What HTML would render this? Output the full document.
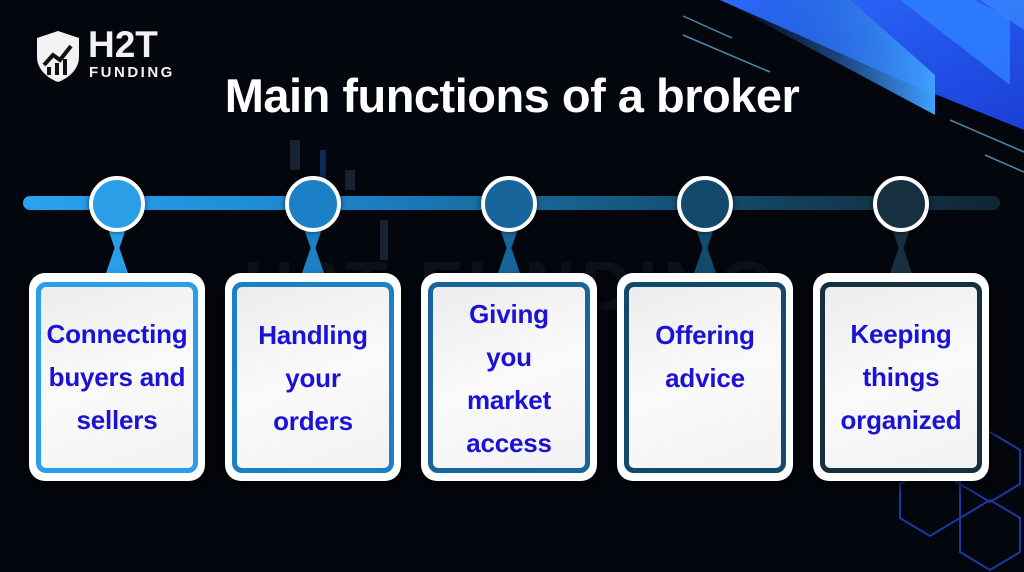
<!DOCTYPE html>
<html><head><meta charset="utf-8"><style>
body{margin:0;width:1024px;height:572px;overflow:hidden;background:#03060c;font-family:"Liberation Sans",sans-serif;position:relative}
.abs{position:absolute}
.box{position:absolute;top:273px;width:176px;height:208px;background:#fff;border-radius:16px;box-shadow:4px 6px 10px rgba(0,0,0,.6)}
.inner{position:absolute;left:7px;top:9px;right:7px;bottom:8px;border:5px solid;border-radius:10px;background:linear-gradient(160deg,#ececec,#fafafa 50%,#f2f2f2)}
.txt{position:absolute;left:-10px;right:-10px;text-align:center;color:#1c12d6;font-weight:bold;font-size:26px;line-height:43px;letter-spacing:-0.2px}
.circ{position:absolute;top:176px;width:48px;height:48px;border:4px solid #fff;border-radius:50%;box-shadow:0 0 6px rgba(0,0,0,.6)}
.stem{position:absolute;top:220px;width:24px;height:56px}
</style></head><body>
<svg class="abs" style="left:0;top:0" width="1024" height="572">
 <defs>
  <linearGradient id="g1" x1="0" y1="0" x2="1" y2="1"><stop offset="0" stop-color="#2d6bff"/><stop offset="1" stop-color="#1a3fd6"/></linearGradient>
  <linearGradient id="g2" x1="0" y1="0" x2="1" y2="0"><stop offset="0" stop-color="#1a4bb0" stop-opacity="0"/><stop offset="1" stop-color="#3fa0ff"/></linearGradient>
 </defs>
 <polygon points="720,0 1024,0 1024,130 900,80" fill="url(#g1)"/>
 <polygon points="720,0 850,0 935,75 935,115" fill="url(#g2)"/>
 <polygon points="900,0 975,0 1010,18 1010,85" fill="#2f82ff" opacity=".8"/>
 <polygon points="980,0 1024,0 1024,30" fill="#3a8fff" opacity=".7"/>
 <g stroke="#5fa8d8" stroke-width="1.5" opacity=".8">
  <line x1="683" y1="16" x2="732" y2="38"/><line x1="683" y1="35" x2="770" y2="72"/>
  <line x1="950" y1="120" x2="1024" y2="152"/><line x1="985" y1="155" x2="1024" y2="172"/>
 </g>
 <g fill="#1d2a3a" opacity=".8">
  <rect x="290" y="140" width="10" height="30"/><rect x="345" y="170" width="10" height="20"/><rect x="380" y="220" width="8" height="40"/>
  <rect x="320" y="150" width="6" height="50" fill="#12336a"/>
 </g>
 <g stroke="#1e46c8" stroke-width="2" fill="none" opacity=".8">
  <polygon points="960,450 990,432 1020,450 1020,484 990,502 960,484"/>
  <polygon points="900,484 930,466 960,484 960,518 930,536 900,518"/>
  <polygon points="960,518 990,500 1020,518 1020,552 990,570 960,552"/>
 </g>
 <text x="512" y="310" text-anchor="middle" font-family="Liberation Sans" font-weight="bold" font-size="70" fill="#fff" opacity=".04" letter-spacing="6">H2T FUNDING</text>
</svg>
<svg class="abs" style="left:33px;top:29px" width="50" height="55" viewBox="0 0 50 55">
 <path d="M25 2 L46 9 V28 C46 40 36 49 25 53 C14 49 4 40 4 28 V9 Z" fill="#f2f2f2"/>
 <path d="M11 36 L20 26 L27 31 L38 17" stroke="#111" stroke-width="4" fill="none"/>
 <rect x="14" y="38" width="4" height="8" fill="#111"/><rect x="22" y="34" width="4" height="12" fill="#111"/><rect x="30" y="30" width="4" height="16" fill="#111"/>
</svg>
<div class="abs" style="left:88px;top:26px;color:#f2f2f2;font-weight:bold;font-size:37px;line-height:38px">H2T</div>
<div class="abs" style="left:89px;top:64px;color:#f2f2f2;font-weight:bold;font-size:15px;letter-spacing:2.5px">FUNDING</div>
<div class="abs" style="left:0;width:1024px;top:68px;text-align:center;color:#fff;font-weight:bold;font-size:47px;letter-spacing:-0.5px">Main functions of a broker</div>
<div class="abs" style="left:23px;top:196px;width:977px;height:14px;border-radius:7px;background:linear-gradient(90deg,#2aa3f0,#1d86d0 30%,#16628f 55%,#123e57 80%,#0f2533)"></div>

<div class="stem" style="left:105px;background:#2a9fe8;clip-path:polygon(0 0,100% 0,60% 50%,100% 100%,0 100%,40% 50%)"></div>
<div class="stem" style="left:301px;background:#1b80c6;clip-path:polygon(0 0,100% 0,60% 50%,100% 100%,0 100%,40% 50%)"></div>
<div class="stem" style="left:497px;background:#17659b;clip-path:polygon(0 0,100% 0,60% 50%,100% 100%,0 100%,40% 50%)"></div>
<div class="stem" style="left:693px;background:#134a6c;clip-path:polygon(0 0,100% 0,60% 50%,100% 100%,0 100%,40% 50%)"></div>
<div class="stem" style="left:889px;background:#16303f;clip-path:polygon(0 0,100% 0,60% 50%,100% 100%,0 100%,40% 50%)"></div>

<div class="circ" style="left:89px;background:#2a9fe8"></div>
<div class="circ" style="left:285px;background:#1b80c6"></div>
<div class="circ" style="left:481px;background:#17659b"></div>
<div class="circ" style="left:677px;background:#134a6c"></div>
<div class="circ" style="left:873px;background:#16303f"></div>

<div class="box" style="left:29px"><div class="inner" style="border-color:#2a9fe8"></div><div class="txt" style="top:40px">Connecting<br>buyers and<br>sellers</div></div>
<div class="box" style="left:225px"><div class="inner" style="border-color:#1b80c6"></div><div class="txt" style="top:41px">Handling<br>your<br>orders</div></div>
<div class="box" style="left:421px"><div class="inner" style="border-color:#17659b"></div><div class="txt" style="top:20px">Giving<br>you<br>market<br>access</div></div>
<div class="box" style="left:617px"><div class="inner" style="border-color:#134a6c"></div><div class="txt" style="top:41px">Offering<br>advice</div></div>
<div class="box" style="left:813px"><div class="inner" style="border-color:#16303f"></div><div class="txt" style="top:40px">Keeping<br>things<br>organized</div></div>
</body></html>
